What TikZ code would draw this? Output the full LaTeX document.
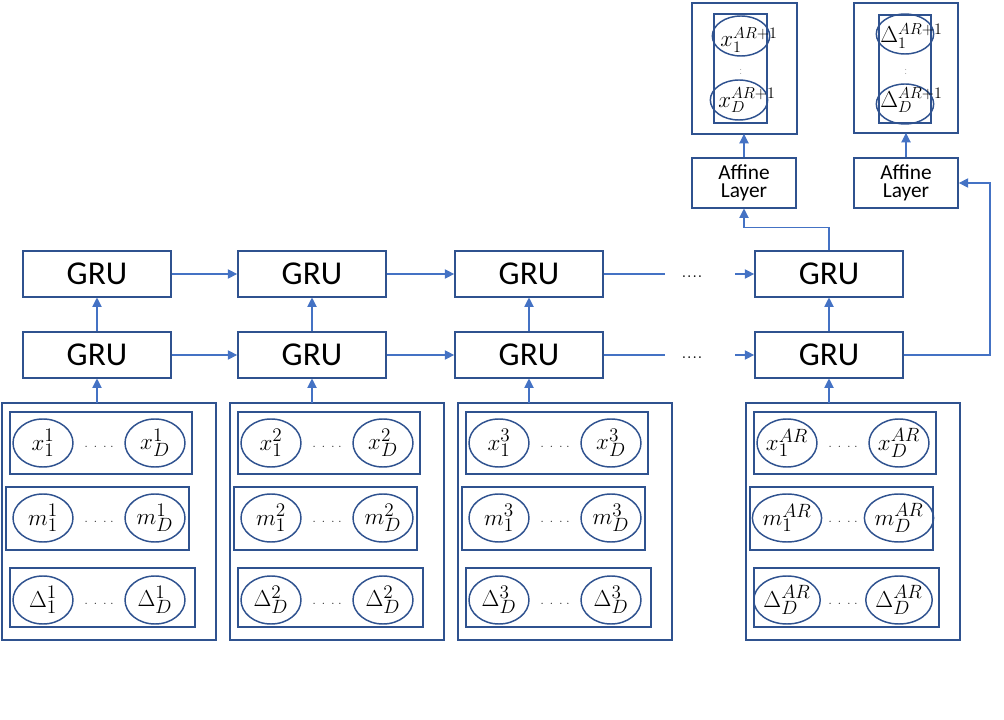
\documentclass[tikz,border=0pt]{standalone}
\usepackage{fontspec}
\newfontfamily\calfont{Carlito}
\usetikzlibrary{shapes.geometric,arrows.meta}
\definecolor{bd}{RGB}{47,82,143}
\definecolor{ar}{RGB}{68,114,196}
\tikzset{
 box/.style={draw=bd,line width=1.3pt,inner sep=0pt},
 gru/.style={box,minimum width=111pt,minimum height=34pt,font=\calfont\fontsize{25}{25}\selectfont},
 aff/.style={box,minimum width=78pt,minimum height=37pt,align=center,font=\calfont\fontsize{16}{16}\selectfont},
 ell/.style={draw=bd,line width=1.1pt,ellipse,minimum width=45pt,minimum height=36pt,inner sep=0pt,font=\fontsize{19}{19}\selectfont},
 arr/.style={draw=ar,line width=0.8pt,-{Triangle[length=7pt,width=7pt]}},
 ln/.style={draw=ar,line width=0.8pt},
 hd/.style={font=\fontsize{8}{8}\selectfont},
 olab/.style={font=\fontsize{18}{18}\selectfont,anchor=west,inner sep=0pt}
}
\begin{document}
\begin{tikzpicture}[x=0.75pt,y=-0.75pt]
\useasboundingbox (0,0) rectangle (1004,720);
% GRU rows
\foreach \n/\cx in {1/97,2/312,3/529,4/829}{
 \node[gru] (gt\n) at (\cx,274) {GRU};
 \node[gru] (gb\n) at (\cx,355) {GRU};
}
\draw[arr] (gb1) -- (gt1);
\draw[arr] (gb2) -- (gt2);
\draw[arr] (gb3) -- (gt3);
\draw[arr] (gb4) -- (gt4);
\draw[arr] (gt1) -- (gt2);
\draw[arr] (gt2) -- (gt3);
\draw[arr] (gb1) -- (gb2);
\draw[arr] (gb2) -- (gb3);
\coordinate (ta) at (665,274); \coordinate (tb) at (735,274);
\coordinate (ba) at (665,355); \coordinate (bb) at (735,355);
\draw[ln] (gt3) -- (ta); \draw[arr] (tb) -- (gt4);
\draw[ln] (gb3) -- (ba); \draw[arr] (bb) -- (gb4);
\node[font=\fontsize{16}{16}\selectfont] (dt) at (692,277) {....};
\node[font=\fontsize{16}{16}\selectfont] (db) at (692,358) {....};
% input columns
\foreach \n/\L/\s/\da in {1/2/1/1,2/230/2/D,3/458/3/D,4/746/AR/D}{
 \draw[box] (\L,403) rectangle (\L+214,640);
 \draw[box] (\L+8,412) rectangle (\L+190,474);
 \draw[box] (\L+4,487) rectangle (\L+187,550);
 \draw[box] (\L+8,568) rectangle (\L+193,627);
 \node[ell] (xa\n) at (\L+41,443) {$x_1^{\s}$};
 \node[ell] (xb\n) at (\L+153,443) {$x_D^{\s}$};
 \node[ell] (ma\n) at (\L+41,518) {$m_1^{\s}$};
 \node[ell] (mb\n) at (\L+153,518) {$m_D^{\s}$};
 \node[ell] (da\n) at (\L+41,600) {$\Delta_{\da}^{\s}$};
 \node[ell] (db\n) at (\L+153,600) {$\Delta_D^{\s}$};
 \node[hd] at (\L+97,447) {$\cdot\ \cdot\ \cdot\ \cdot$};
 \node[hd] at (\L+97,522) {$\cdot\ \cdot\ \cdot\ \cdot$};
 \node[hd] at (\L+97,604) {$\cdot\ \cdot\ \cdot\ \cdot$};
}
\draw[arr] (gb1.south |- 0,403) -- (gb1.south);
\draw[arr] (gb2.south |- 0,403) -- (gb2.south);
\draw[arr] (gb3.south |- 0,403) -- (gb3.south);
\draw[arr] (gb4.south |- 0,403) -- (gb4.south);
% outputs
\node[aff] (af1) at (744,183) {Affine\\[-2pt]Layer};
\node[aff] (af2) at (906,183) {Affine\\[-2pt]Layer};
\draw[box] (692,3) rectangle (797,134); \coordinate (o1) at (744,134);
\draw[box] (714,14) rectangle (767,123);
\draw[box] (854,3) rectangle (958,133); \coordinate (o2) at (906,133);
\draw[box] (879,15) rectangle (931,123);
\node[ell,minimum width=43pt,minimum height=30pt] (y1) at (741,36) {};
\node[ell,minimum width=43pt,minimum height=30pt] (y2) at (739,100) {};
\node[ell,minimum width=43pt,minimum height=30pt] (z1) at (905,34) {};
\node[ell,minimum width=43pt,minimum height=30pt] (z2) at (905,104) {};
\node[olab] at (720,40) {$x_1^{AR+1}$};
\node[olab] at (718,100) {$x_D^{AR+1}$};
\node[olab] at (880,36) {$\Delta_1^{AR+1}$};
\node[olab] at (880,100) {$\Delta_D^{AR+1}$};
\node[font=\fontsize{5}{5}\selectfont,align=center,inner sep=0pt] (v1) at (741,72) {$\cdot$\\[-2pt]$\cdot$};
\node[font=\fontsize{5}{5}\selectfont,align=center,inner sep=0pt] (v2) at (906,72) {$\cdot$\\[-2pt]$\cdot$};
\draw[arr] (af1) -- (o1);
\draw[arr] (af2) -- (o2);
\draw[arr] (gt4.north) -- ++(0,-23) -| (af1.south);
\draw[arr] (gb4.east) -| (990,183) -- (af2.east);
\end{tikzpicture}
\end{document}
